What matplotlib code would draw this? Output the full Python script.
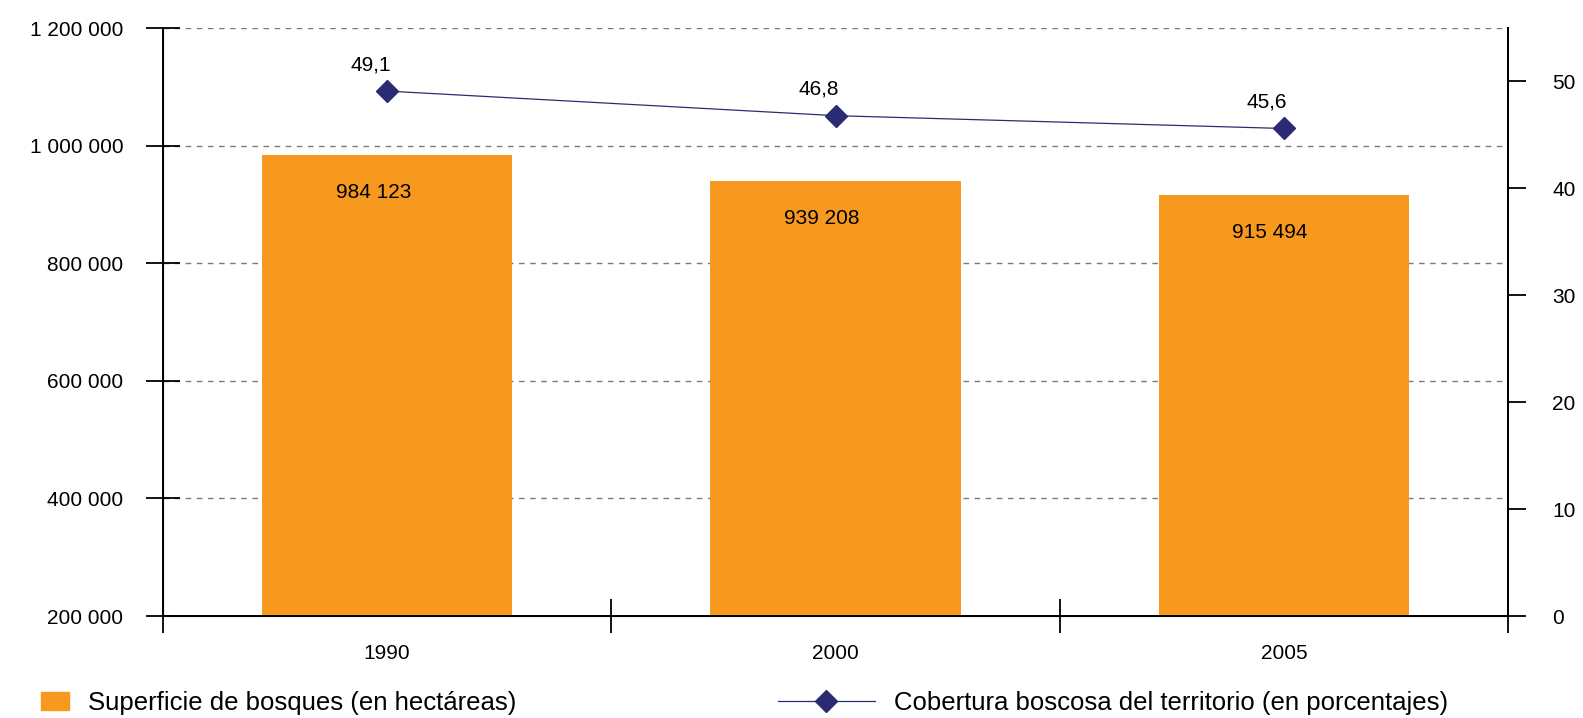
import matplotlib
matplotlib.use('Agg')
import matplotlib.pyplot as plt
from matplotlib.ticker import FuncFormatter
from matplotlib.lines import Line2D
from matplotlib.patches import Patch

plt.rcParams['font.family'] = ['Liberation Sans', 'DejaVu Sans']

# data
years = ['1990', '2000', '2005']
superficie = [984123, 939208, 915494]          # hectareas
cobertura = [49.1, 46.8, 45.6]                 # porcentaje
superficie_lbl = ['984 123', '939 208', '915 494']
cobertura_lbl = ['49,1', '46,8', '45,6']

orange = '#F7991F'
navy = '#2B2B73'

W, H = 1583, 718
fig = plt.figure(figsize=(W / 100, H / 100), dpi=100)
ax = fig.add_axes([163 / W, 102 / H, (1508 - 163) / W, (616 - 28) / H])

x = list(range(len(years)))
ax.bar(x, superficie, width=0.558, color=orange, zorder=2)
ax.set_xlim(-0.5, 2.5)
ax.set_ylim(200000, 1200000)
ax.set_yticks(range(200000, 1200001, 200000))
ax.yaxis.set_major_formatter(FuncFormatter(lambda v, p: f'{int(v):,}'.replace(',', ' ')))
ax.grid(axis='y', color='#7a7a7a', linestyle=(0, (4, 4)), linewidth=1)
ax.set_axisbelow(True)

# category separators as major ticks, year labels as minor ticks
ax.set_xticks([-0.5, 0.5, 1.5, 2.5])
ax.set_xticklabels([])
ax.set_xticks(x, minor=True)
ax.set_xticklabels(years, minor=True)
ax.tick_params(axis='x', which='major', direction='inout', length=25, width=1.3)
ax.tick_params(axis='x', which='minor', length=0, pad=20, labelsize=15)
ax.tick_params(axis='y', direction='inout', length=25, width=1.3, pad=16, labelsize=15)

for s in ['left', 'bottom', 'right']:
    ax.spines[s].set_linewidth(1.4)
ax.spines['top'].set_visible(False)

for i, v in enumerate(superficie):
    ax.annotate(superficie_lbl[i], (i, v), xytext=(-10, -27), textcoords='offset points',
                ha='center', va='center', fontsize=15)

ax2 = ax.twinx()
ax2.set_ylim(0, 55)
ax2.set_yticks(range(0, 51, 10))
ax2.tick_params(axis='y', direction='out', length=13, width=1.3, pad=19, labelsize=15)
ax2.spines['top'].set_visible(False)
ax2.spines['right'].set_linewidth(1.4)
ax2.plot(x, cobertura, color=navy, lw=0.9, marker='D', ms=11, zorder=3)
for i, v in enumerate(cobertura):
    ax2.annotate(cobertura_lbl[i], (i, v), xytext=(-12, 19), textcoords='offset points',
                 ha='center', va='center', fontsize=15)

fig.legend(handles=[Patch(color=orange)], labels=['Superficie de bosques (en hectáreas)'],
           loc='center left', bbox_to_anchor=(41 / W, 15 / H), frameon=False, fontsize=18.5,
           handlelength=1.09, handleheight=0.74, handletextpad=0.74, borderpad=0, borderaxespad=0)
fig.legend(handles=[Line2D([], [], color=navy, lw=0.9, marker='D', ms=11)],
           labels=['Cobertura boscosa del territorio (en porcentajes)'],
           loc='center left', bbox_to_anchor=(778 / W, 15 / H), frameon=False, fontsize=18.5,
           handlelength=3.77, handletextpad=0.74, borderpad=0, borderaxespad=0)

fig.savefig('out.png', dpi=100)
